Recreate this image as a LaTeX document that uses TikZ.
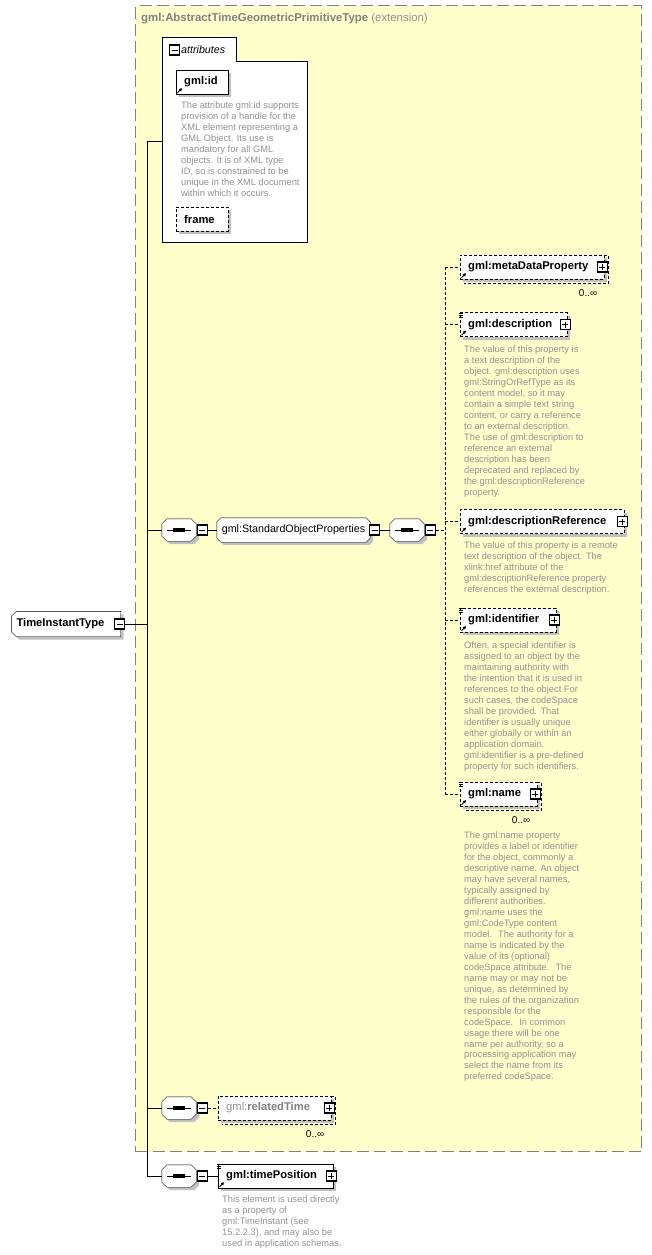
\documentclass[tikz,border=0pt]{standalone}
\usepackage{fontspec}
\setmainfont{Liberation Sans}
\usetikzlibrary{shadows,arrows.meta}
\definecolor{extfill}{RGB}{255,255,204}
\definecolor{extline}{RGB}{128,128,128}
\definecolor{notegray}{RGB}{145,145,145}
\definecolor{boxshade}{RGB}{192,192,192}
\pgfdeclarelayer{frame}
\pgfdeclarelayer{shapes}
\pgfsetlayers{frame,shapes,main}
\begin{document}
\begin{tikzpicture}[x=1pt, y=-1pt, line width=0.9pt,
  every node/.style={inner sep=0pt, font=\fontsize{10.7}{12}\selectfont},
  boxshadow/.style={drop shadow={shadow xshift=3pt, shadow yshift=-3pt, fill=boxshade, opacity=1}},
  elem/.style={rectangle, draw, fill=white, anchor=west, minimum height=24pt, inner xsep=8pt, align=left, font=\fontsize{11.2}{13}\selectfont\bfseries, boxshadow},
  optelem/.style={elem, dash pattern=on 3pt off 2pt},
  octo/.style={rectangle, minimum height=22pt},
  minusbox/.style={rectangle, draw, line width=1.2pt, fill=white, minimum size=10pt,
    path picture={\draw[line width=0.8pt] ([xshift=-3pt]path picture bounding box.center) -- ([xshift=3pt]path picture bounding box.center);}},
  plusbox/.style={minusbox,
    path picture={\draw[line width=0.8pt] ([xshift=-3pt]path picture bounding box.center) -- ([xshift=3pt]path picture bounding box.center);
      \draw[line width=0.8pt] ([yshift=-3pt]path picture bounding box.center) -- ([yshift=3pt]path picture bounding box.center);}},
  note/.style={anchor=north west, align=left, text=notegray, font=\fontsize{9.3}{10.95}\selectfont},
  mult/.style={anchor=east, font=\fontsize{10}{12}\selectfont},
  optline/.style={dash pattern=on 3pt off 2pt},
  refarrow/.style={line width=1pt, -{Triangle[length=3pt, width=3.2pt]}}]
\useasboundingbox (0,0) rectangle (652,1255);

% extension frame
\begin{pgfonlayer}{frame}
\node[draw=extline, fill=extfill, dash pattern=on 12pt off 5pt, line width=1.2pt, anchor=north west, minimum width=506pt, minimum height=1146pt] (ext) at (135,5) {};
\end{pgfonlayer}
\node[anchor=west, text=extline, font=\fontsize{11.4}{13}\selectfont] (extT) at (141,19) {\textbf{gml:AbstractTimeGeometricPrimitiveType} {\color{notegray}(extension)}};

% attributes
\node[fill=white, anchor=north west, minimum width=145pt, minimum height=181pt] (attr) at (162,61) {};
\node[fill=white, anchor=south west, minimum width=74pt, minimum height=23pt] (attrtab) at (attr.north west) {};
\draw (attr.south west) |- (attrtab.north east) |- (attr.north east) |- (attr.south west) -- cycle;
\node[minusbox] (attrM) at (174.5,50) {};
\node[anchor=west, font=\fontsize{10.7}{12}\selectfont\itshape] (attrL) at (181,50) {attributes};
\node[elem, text width=36pt] (gid) at (176,82) {gml:id};
\node[note] (gidN) at (181,102) {The attribute gml:id supports\\provision of a handle for the\\XML element representing a\\GML Object. Its use is\\mandatory for all GML\\objects. It is of XML type\\ID, so is constrained to be\\unique in the XML document\\within which it occurs.};
\node[optelem, text width=36pt] (frame) at (176,219) {frame};

% root and sequences
\node[octo, minimum width=109pt, minimum height=25pt, text width=99pt, align=left, font=\fontsize{11.2}{13}\selectfont\bfseries] (root) at (66,624) {TimeInstantType};
\node[minusbox] (rootM) at ([xshift=-1pt]root.east) {};
\coordinate (trunk) at (147,141);

\node[octo, minimum width=34pt] (seq1) at (179,530) {};
\node[minusbox] (seq1M) at ([xshift=6pt]seq1.east) {};
\node[octo, minimum width=153pt, minimum height=24pt] (grp) at (293.5,530) {gml:StandardObjectProperties};
\node[minusbox] (grpM) at ([xshift=4.5pt]grp.east) {};
\node[octo, minimum width=34pt] (seq2) at (407,530) {};
\node[minusbox] (seq2M) at ([xshift=6pt]seq2.east) {};
\coordinate (bus) at (445,530);

% standard object properties
\node[optelem, text width=128pt] (meta) at (460,267) {gml:metaDataProperty};
\node[mult] (metaN) at ([shift={(-7,14)}]meta.south east) {0..∞};
\node[optelem, text width=91pt] (desc) at (460,324.5) {gml:description};
\node[note] (descN) at (464,346) {The value of this property is\\a text description of the\\object. gml:description uses\\gml:StringOrRefType as its\\content model, so it may\\contain a simple text string\\content, or carry a reference\\to an external description.\\The use of gml:description to\\reference an external\\description has been\\deprecated and replaced by\\the gml:descriptionReference\\property.};
\node[optelem, text width=148pt] (dref) at (460,521.5) {gml:descriptionReference};
\node[note] (drefN) at (464,542) {The value of this property is a remote\\text description of the object. The\\xlink:href attribute of the\\gml:descriptionReference property\\references the external description.};
\node[optelem, text width=80pt] (ident) at (460,620) {gml:identifier};
\node[note] (identN) at (464,642) {Often, a special identifier is\\assigned to an object by the\\maintaining authority with\\the intention that it is used in\\references to the object For\\such cases, the codeSpace\\shall be provided. That\\identifier is usually unique\\either globally or within an\\application domain.\\gml:identifier is a pre-defined\\property for such identifiers.};
\node[optelem, text width=61pt] (name) at (460,794) {gml:name};
\node[mult] (nameN) at ([shift={(-7,14)}]name.south east) {0..∞};
\node[note] (nameD) at (464,832) {The gml:name property\\provides a label or identifier\\for the object, commonly a\\descriptive name. An object\\may have several names,\\typically assigned by\\different authorities.\\gml:name uses the\\gml:CodeType content\\model.~ The authority for a\\name is indicated by the\\value of its (optional)\\codeSpace attribute.~ The\\name may or may not be\\unique, as determined by\\the rules of the organization\\responsible for the\\codeSpace.~ In common\\usage there will be one\\name per authority, so a\\processing application may\\select the name from its\\preferred codeSpace.};

% related time and time position
\node[octo, minimum width=34pt] (seq3) at (179,1108) {};
\node[minusbox] (seq3M) at ([xshift=6pt]seq3.east) {};
\node[optelem, text width=97pt, text=extline] (rtime) at (218,1108) {{\mdseries\color{notegray}gml:}relatedTime};
\node[mult] (rtimeN) at ([shift={(-7,14)}]rtime.south east) {0..∞};
\node[octo, minimum width=34pt] (seq4) at (179,1176) {};
\node[minusbox] (seq4M) at ([xshift=6pt]seq4.east) {};
\node[elem, text width=99pt] (tpos) at (218,1176) {gml:timePosition};
\node[note] (tposN) at (222,1196) {This element is used directly\\as a property of\\gml:TimeInstant (see\\15.2.2.3), and may also be\\used in application schemas.};

% octagon outlines behind the texts
\begin{pgfonlayer}{shapes}
\foreach \n/\c in {seq1/5,seq2/5,seq3/5,seq4/5,grp/4}
  \draw[fill=white, boxshadow] ([xshift=\c pt]\n.north west) -- ([xshift=-\c pt]\n.north east) -- ([yshift=-\c pt]\n.north east)
    -- ([yshift=\c pt]\n.south east) -- ([xshift=-\c pt]\n.south east) -- ([xshift=\c pt]\n.south west)
    -- ([yshift=\c pt]\n.south west) -- ([yshift=-\c pt]\n.north west) -- cycle;
\draw[fill=white, boxshadow] ([xshift=5pt]root.north west) -- (root.north east) -- (root.south east)
  -- ([xshift=5pt]root.south west) -- ([yshift=5pt]root.south west) -- ([yshift=-5pt]root.north west) -- cycle;
\end{pgfonlayer}
\foreach \n in {seq1,seq2,seq3,seq4} {
  \draw[line width=0.9pt] ([xshift=-12pt]\n.center) -- ([xshift=12pt]\n.center);
  \foreach \d in {-4,0,4}
    \fill ([xshift=\d pt]\n.center) +(-1.6pt,-1.6pt) rectangle +(1.6pt,1.6pt);
}

% stacked boxes, icons, expand boxes
\foreach \n in {meta,name,rtime}
  \draw[optline] (\n.north east) -- ++(4,0) |- ([shift={(4,4)}]\n.south west);
\foreach \n in {gid,meta,desc,dref,ident,name,tpos}
  \draw[refarrow] ([shift={(1.5,-1.5)}]\n.south west) -- ++(4.5,-4.5);
\foreach \n in {desc,ident,name,tpos}
  \foreach \k in {1,3,5}
    \draw[line width=0.7pt] ([shift={(-1,\k)}]\n.north west) -- ++(4,0);
\foreach \n in {meta,desc,dref,ident,name,rtime,tpos}
  \node[plusbox] (p\n) at ([xshift=-2pt]\n.east) {};

% connectors
\draw (trunk) |- (seq4.west);
\draw (trunk) -- (trunk -| attr.west);
\draw (rootM.east) -- (rootM.east -| trunk);
\draw (trunk |- seq1.west) -- (seq1.west);
\draw (trunk |- seq3.west) -- (seq3.west);
\draw (seq1M.east) -- (grp.west);
\draw (grpM.east) -- (seq2.west);
\draw[optline] (seq2M.east) -- (bus);
\draw[optline] (bus |- meta.west) -- (bus |- name.west);
\foreach \n in {meta,desc,dref,ident,name}
  \draw[optline] (bus |- \n.west) -- (\n.west);
\draw[optline] (seq3M.east) -- (rtime.west);
\draw (seq4M.east) -- (tpos.west);
\end{tikzpicture}
\end{document}
